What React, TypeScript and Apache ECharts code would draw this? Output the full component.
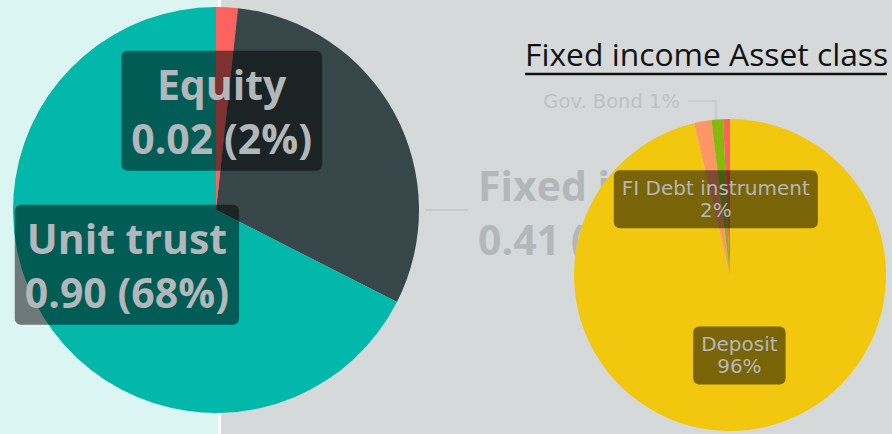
import React, { useEffect, useRef } from 'react';
import * as echarts from 'echarts';

const assetNames = ['Equity', 'Fixed income', 'Unit trust'];
const assetValues = [0.023, 0.41, 0.9];
const assetColors = ['#fd625e', '#374649', '#01b8aa'];

const fiNames = ['Deposit', 'FI Debt instrument', 'Gov. Bond', 'Other'];
const fiValues = [96.3, 1.8, 1.2, 0.7];
const fiColors = ['#f2c80f', '#fe9666', '#86b90a', '#fd625e'];

const chartTitle = 'Fixed income Asset class';

export default function App() {
  const ref = useRef<HTMLDivElement>(null);
  useEffect(() => {
    if (!ref.current) return;
    const chart = echarts.init(ref.current, undefined, { renderer: 'svg' });
    const bigFont = '"Open Sans", "Noto Sans", sans-serif';
    const smallFont = '"DejaVu Sans", sans-serif';
    const insideBox = {
      position: 'inside',
      backgroundColor: 'rgba(0,0,0,0.5)',
      borderRadius: 6,
    };
    chart.setOption({
      animation: false,
      graphic: [
        { type: 'rect', z: 0, shape: { x: 0, y: 0, width: 218, height: 434 }, style: { fill: '#dbf5f2' } },
        { type: 'rect', z: 0, shape: { x: 218, y: 0, width: 3, height: 434 }, style: { fill: '#ffffff' } },
        { type: 'rect', z: 0, shape: { x: 221, y: 0, width: 671, height: 434 }, style: { fill: '#d6d9da' } },
        {
          type: 'text', z: 10, x: 525, y: 37,
          style: { text: chartTitle, font: '31.8px "Open Sans", sans-serif', fill: '#111111' },
        },
        { type: 'line', z: 10, shape: { x1: 525, y1: 74, x2: 887, y2: 74 }, style: { stroke: '#111111', lineWidth: 2.5 } },
      ],
      series: [
        {
          type: 'pie',
          z: 2,
          silent: true,
          center: [216, 210],
          radius: 203,
          startAngle: 90,
          clockwise: true,
          avoidLabelOverlap: false,
          label: {
            formatter: (p: any) => `${p.name}\n${p.value.toFixed(2)} (${Math.round(p.percent)}%)`,
            fontFamily: bigFont,
            fontWeight: 'bold',
            fontSize: 41,
            lineHeight: 54,
            color: '#b3b7b9',
          },
          labelLayout: (p: any) =>
            p.dataIndex === 1
              ? { x: 478, y: 212, align: 'left', verticalAlign: 'middle', labelLinePoints: [[425, 210], [446, 210], [468, 210]] }
              : p.dataIndex === 0
              ? { dy: 5 }
              : {},
          data: assetNames.map((n, i) => ({
            name: n,
            value: assetValues[i],
            itemStyle: { color: assetColors[i] },
            label: i === 1 ? { position: 'outside' } : { ...insideBox, padding: [6, 10] },
            labelLine: { show: i === 1, lineStyle: { color: '#c1c5c6', width: 1.5 } },
          })),
        },
        {
          type: 'pie',
          z: 5,
          silent: true,
          center: [730, 275],
          radius: 156,
          startAngle: 90,
          clockwise: true,
          avoidLabelOverlap: false,
          label: {
            formatter: (p: any) => `${p.name}\n${Math.round(p.percent)}%`,
            fontFamily: smallFont,
            fontSize: 20,
            lineHeight: 22,
            color: '#b5b8b9',
          },
          labelLayout: (p: any) =>
            p.dataIndex === 2
              ? { x: 680, y: 101, align: 'right', verticalAlign: 'middle', labelLinePoints: [[716, 120], [716, 101], [688, 101]] }
              : p.dataIndex === 1
              ? { dy: 4 }
              : {},
          data: fiNames.map((n, i) => ({
            name: n,
            value: fiValues[i],
            itemStyle: { color: fiColors[i] },
            label:
              i === 2
                ? { position: 'outside', formatter: (p: any) => `${p.name} ${Math.round(p.percent)}%`, fontSize: 19.5, color: '#bec1c2' }
                : i === 3
                ? { show: false }
                : { ...insideBox, padding: [7, 8] },
            labelLine: { show: i === 2, lineStyle: { color: '#c5c8c9', width: 1.5 } },
          })),
        },
      ],
    });
    return () => chart.dispose();
  }, []);
  return <div ref={ref} style={{ position: 'absolute', left: 0, top: 0, width: 892, height: 434 }} />;
}
